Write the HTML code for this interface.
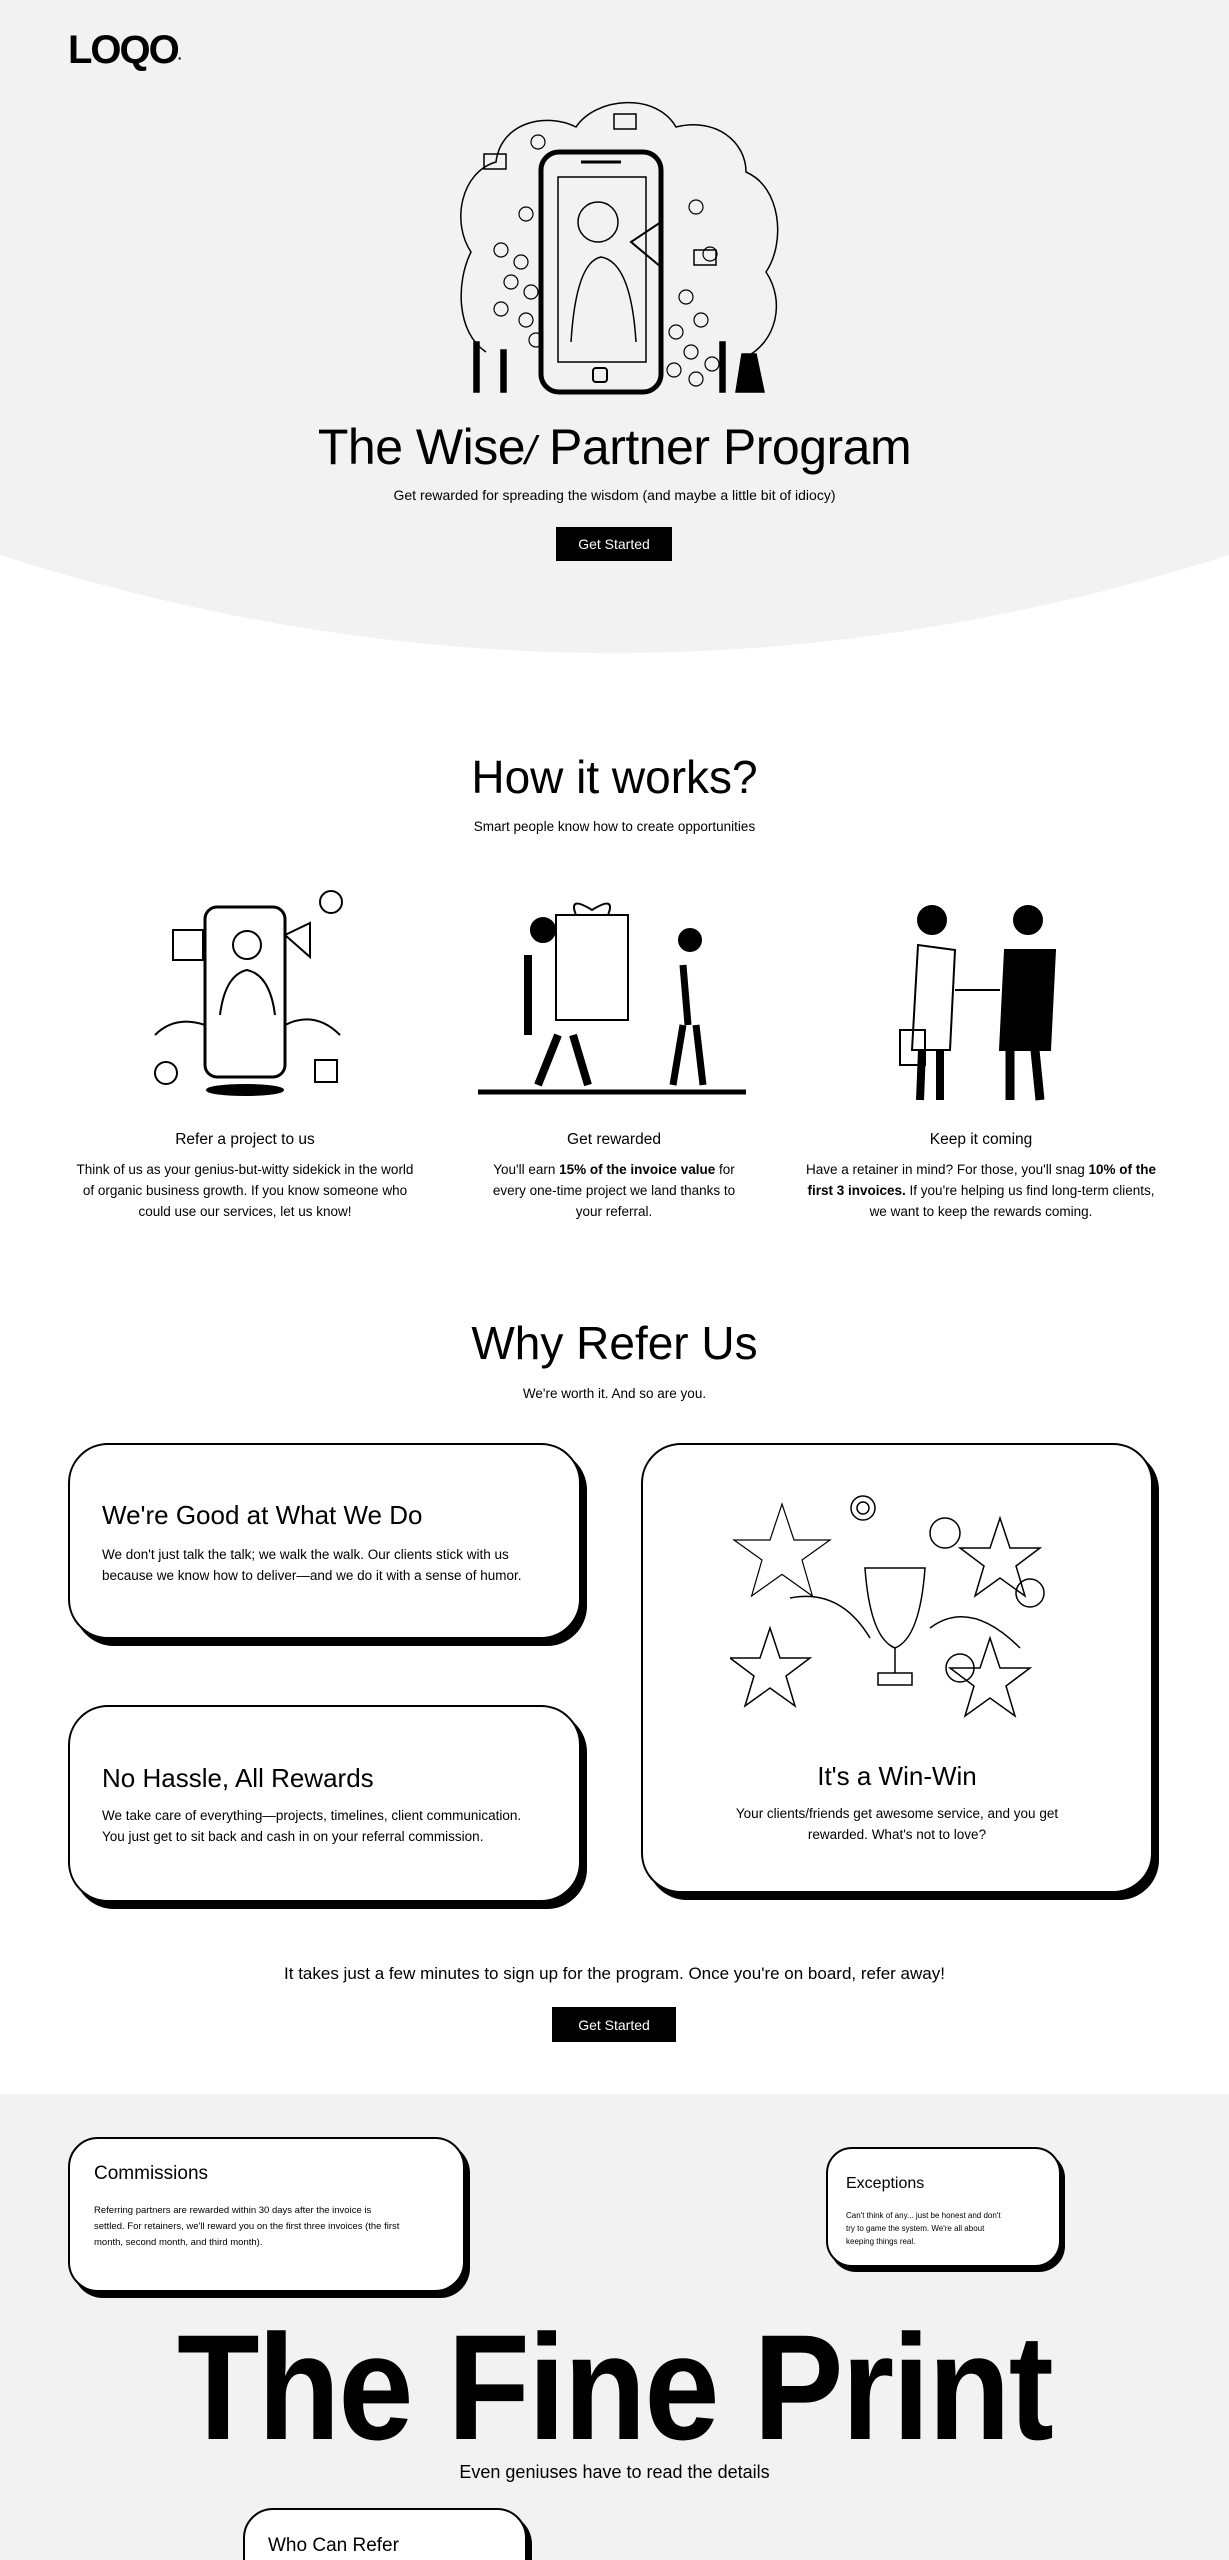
<!DOCTYPE html>
<html style="width:1229px;height:2560px;overflow:hidden"><head><meta charset="utf-8">
<style>
*{margin:0;padding:0;box-sizing:border-box}
html,body{width:1229px;height:2560px;overflow:hidden}
body{position:relative;background:linear-gradient(#fff 0,#fff 2094px,#f2f2f2 2094px);font-family:"Liberation Sans",sans-serif;color:#000}
.a{position:absolute}
.c{text-align:center;white-space:nowrap}
.card{position:absolute;background:#fff;border:2px solid #000;border-radius:40px;box-shadow:6px 7px 0 #000}
.p{font-size:13.5px;line-height:21px;white-space:nowrap}
.btn{position:absolute;background:#000;color:#fff;font-size:14px;display:flex;align-items:center;justify-content:center}
</style></head><body>
<svg class="a" style="left:0;top:0" width="1229" height="760"><path d="M0 0H1229V555Q614 751 0 555Z" fill="#f2f2f2"/></svg>
<div class="a" style="left:68px;top:28px;font-size:40px;font-weight:bold;letter-spacing:-2px">LOQO<span style="font-size:14px">·</span></div>

<svg class="a" style="left:446px;top:92px" width="345" height="310" viewBox="0 0 345 310" fill="none" stroke="#000" stroke-width="1.5">
<path d="M40 260 C10 240 10 190 25 160 C5 130 15 80 50 70 C55 30 100 20 130 35 C150 5 210 0 230 35 C270 25 300 50 300 80 C335 95 340 150 320 180 C340 210 330 250 300 265"/>
<rect x="95" y="60" width="120" height="240" rx="18" stroke-width="5"/>
<rect x="112" y="85" width="88" height="185"/>
<line x1="135" y1="70" x2="175" y2="70" stroke-width="3"/>
<rect x="147" y="276" width="14" height="14" rx="3" stroke-width="2"/>
<circle cx="152" cy="130" r="20"/><path d="M125 250 Q130 170 155 165 Q185 170 190 250"/>
<path d="M185 150 L215 130 L215 175 Z" stroke-width="2"/>
<g stroke-width="1.2"><circle cx="92" cy="50" r="7"/><circle cx="80" cy="122" r="7"/><circle cx="55" cy="158" r="7"/><circle cx="75" cy="170" r="7"/><circle cx="65" cy="190" r="7"/><circle cx="85" cy="200" r="7"/><circle cx="80" cy="228" r="7"/><circle cx="55" cy="217" r="7"/><circle cx="90" cy="248" r="7"/><circle cx="250" cy="115" r="7"/><circle cx="264" cy="162" r="7"/><circle cx="240" cy="205" r="7"/><circle cx="255" cy="228" r="7"/><circle cx="230" cy="240" r="7"/><circle cx="245" cy="260" r="7"/><circle cx="228" cy="278" r="7"/><circle cx="250" cy="287" r="7"/><circle cx="266" cy="272" r="7"/></g>
<rect x="38" y="62" width="22" height="15"/><rect x="248" y="158" width="22" height="15"/><rect x="168" y="22" width="22" height="15"/>
<g fill="#000"><rect x="28" y="250" width="5" height="50"/><rect x="55" y="258" width="5" height="42"/><rect x="274" y="250" width="5" height="50"/><path d="M290 300 L296 262 L310 262 L318 300Z"/></g>
</svg>

<div class="a c" style="left:0;width:1229px;top:418px;font-size:50px;letter-spacing:-0.5px">The Wise<span style="font-style:italic;font-size:40px">/</span> Partner Program</div>
<div class="a c" style="left:0;width:1229px;top:487px;font-size:14px">Get rewarded for spreading the wisdom (and maybe a little bit of idiocy)</div>
<div class="btn" style="left:556px;top:527px;width:116px;height:34px">Get Started</div>

<div class="a c" style="left:0;width:1229px;top:750px;font-size:46px">How it works?</div>
<div class="a c" style="left:0;width:1229px;top:819px;font-size:13.5px">Smart people know how to create opportunities</div>

<svg class="a" style="left:135px;top:885px" width="225" height="215" fill="none" stroke="#000" stroke-width="2">
<rect x="70" y="22" width="80" height="170" rx="12" stroke-width="3"/>
<circle cx="112" cy="60" r="14"/><path d="M85 130 Q90 90 112 85 Q135 90 140 130"/>
<rect x="38" y="45" width="30" height="30"/><path d="M150 50 L175 38 L175 72 Z"/>
<circle cx="196" cy="17" r="11"/><circle cx="31" cy="188" r="11"/><rect x="180" y="175" width="22" height="22"/>
<ellipse cx="110" cy="205" rx="38" ry="5" fill="#000"/>
<path d="M20 150 Q40 130 70 140 M150 140 Q180 125 205 150"/>
</svg>
<svg class="a" style="left:478px;top:895px" width="272" height="200" fill="none" stroke="#000" stroke-width="2">
<rect x="78" y="20" width="72" height="105" /><path d="M98 20 Q90 0 114 15 Q138 0 130 20"/>
<circle cx="65" cy="35" r="12" fill="#000"/><path d="M50 60 L50 140 M80 140 L60 190 M95 140 L110 190" stroke-width="8"/>
<circle cx="212" cy="45" r="11" fill="#000"/><path d="M205 70 L210 130 M205 130 L195 190 M218 130 L225 190" stroke-width="7"/>
<line x1="0" y1="197" x2="268" y2="197" stroke-width="5"/>
</svg>
<svg class="a" style="left:860px;top:890px" width="250" height="215" fill="none" stroke="#000" stroke-width="2">
<circle cx="72" cy="30" r="14" fill="#000"/><path d="M58 55 L52 160 L90 160 L95 60 Z"/><path d="M62 160 L60 210 M80 160 L80 210" stroke-width="8"/>
<rect x="40" y="140" width="25" height="35"/>
<circle cx="168" cy="30" r="14" fill="#000"/><path d="M145 60 L140 160 L190 160 L195 60 Z" fill="#000"/><path d="M150 160 L150 210 M175 160 L180 210" stroke-width="9"/>
<path d="M95 100 L140 100"/>
</svg>

<div class="a c" style="left:45px;width:400px;top:1131px;font-size:15.5px">Refer a project to us</div>
<div class="a c p" style="left:45px;width:400px;top:1159px">Think of us as your genius-but-witty sidekick in the world<br>of organic business growth. If you know someone who<br>could use our services, let us know!</div>
<div class="a c" style="left:414px;width:400px;top:1131px;font-size:15.5px">Get rewarded</div>
<div class="a c p" style="left:414px;width:400px;top:1159px">You'll earn <b>15% of the invoice value</b> for<br>every one-time project we land thanks to<br>your referral.</div>
<div class="a c" style="left:781px;width:400px;top:1131px;font-size:15.5px">Keep it coming</div>
<div class="a c p" style="left:781px;width:400px;top:1159px">Have a retainer in mind? For those, you'll snag <b>10% of the</b><br><b>first 3 invoices.</b> If you're helping us find long-term clients,<br>we want to keep the rewards coming.</div>

<div class="a c" style="left:0;width:1229px;top:1316px;font-size:46px">Why Refer Us</div>
<div class="a c" style="left:0;width:1229px;top:1386px;font-size:13.5px">We're worth it. And so are you.</div>

<div class="card" style="left:68px;top:1443px;width:513px;height:196px"></div>
<div class="a" style="left:102px;top:1500px;font-size:26px">We're Good at What We Do</div>
<div class="a p" style="left:102px;top:1544px">We don't just talk the talk; we walk the walk. Our clients stick with us<br>because we know how to deliver—and we do it with a sense of humor.</div>

<div class="card" style="left:68px;top:1705px;width:513px;height:197px"></div>
<div class="a" style="left:102px;top:1763px;font-size:26px">No Hassle, All Rewards</div>
<div class="a p" style="left:102px;top:1805px">We take care of everything—projects, timelines, client communication.<br>You just get to sit back and cash in on your referral commission.</div>

<div class="card" style="left:641px;top:1443px;width:512px;height:450px"></div>
<svg class="a" style="left:730px;top:1488px" width="330" height="235" fill="none" stroke="#000" stroke-width="1.5">
<path d="M40 20 L55 65 L100 65 L65 90 L78 135 L40 108 L2 135 L15 90 L-20 65 L25 65Z" transform="translate(20 0) scale(.8)"/>
<path d="M270 30 L280 60 L310 60 L286 78 L295 108 L270 90 L245 108 L254 78 L230 60 L260 60Z"/>
<path d="M40 140 L50 170 L80 170 L56 188 L65 218 L40 200 L15 218 L24 188 L0 170 L30 170Z"/>
<path d="M260 150 L270 180 L300 180 L276 198 L285 228 L260 210 L235 228 L244 198 L220 180 L250 180Z"/>
<path d="M135 80 L195 80 Q190 150 165 160 Q140 150 135 80Z"/><rect x="148" y="185" width="34" height="12"/><line x1="165" y1="160" x2="165" y2="185"/>
<circle cx="133" cy="20" r="12"/><circle cx="133" cy="20" r="6"/><circle cx="215" cy="45" r="15"/><circle cx="300" cy="105" r="14"/><circle cx="230" cy="180" r="14"/>
<path d="M60 110 Q110 100 140 150 M200 140 Q240 110 290 160"/>
</svg>
<div class="a c" style="left:641px;width:512px;top:1761px;font-size:26px">It's a Win-Win</div>
<div class="a c p" style="left:641px;width:512px;top:1803px">Your clients/friends get awesome service, and you get<br>rewarded. What's not to love?</div>

<div class="a c" style="left:0;width:1229px;top:1964px;font-size:17px">It takes just a few minutes to sign up for the program. Once you're on board, refer away!</div>
<div class="btn" style="left:552px;top:2007px;width:124px;height:35px">Get Started</div>

<div class="card" style="left:68px;top:2137px;width:397px;height:155px;border-radius:30px;box-shadow:5px 6px 0 #000"></div>
<div class="a" style="left:94px;top:2163px;font-size:19px">Commissions</div>
<div class="a" style="left:94px;top:2203px;font-size:9.5px;line-height:16px;white-space:nowrap">Referring partners are rewarded within 30 days after the invoice is<br>settled. For retainers, we'll reward you on the first three invoices (the first<br>month, second month, and third month).</div>

<div class="card" style="left:826px;top:2147px;width:235px;height:120px;border-radius:26px;box-shadow:4px 5px 0 #000"></div>
<div class="a" style="left:846px;top:2175px;font-size:16px">Exceptions</div>
<div class="a" style="left:846px;top:2209px;font-size:8px;line-height:13px;white-space:nowrap">Can't think of any... just be honest and don't<br>try to game the system. We're all about<br>keeping things real.</div>

<div class="a c" style="left:0;width:1229px;top:2302px;font-size:150px;font-weight:bold;line-height:170px;transform:scaleX(.9);letter-spacing:-2px">The Fine Print</div>
<div class="a c" style="left:0;width:1229px;top:2462px;font-size:18px">Even geniuses have to read the details</div>

<div class="card" style="left:243px;top:2508px;width:284px;height:100px;border-radius:30px;box-shadow:5px 6px 0 #000"></div>
<div class="a" style="left:268px;top:2535px;font-size:19px">Who Can Refer</div>
</body></html>
